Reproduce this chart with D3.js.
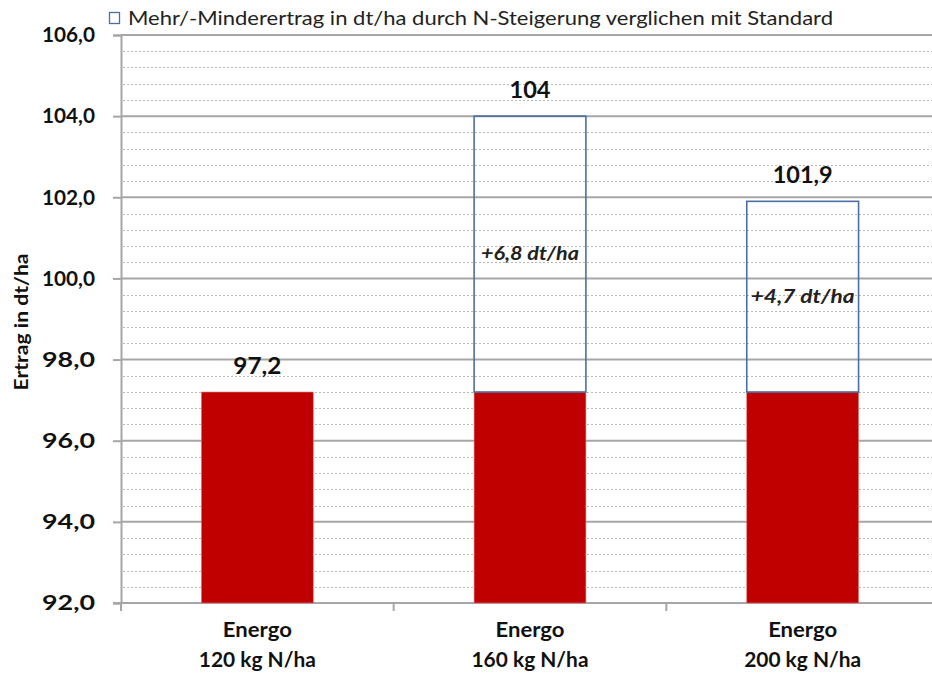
<!DOCTYPE html>
<html><head><meta charset="utf-8">
<script src="https://cdn.jsdelivr.net/npm/d3@7"></script>
<style>body{margin:0;background:#fff;} svg{display:block;font-family:Lato,"Open Sans",sans-serif;}</style>
</head><body>
<script>
const categories = [["Energo","120 kg N/ha"],["Energo","160 kg N/ha"],["Energo","200 kg N/ha"]];
const standardValues = [97.2, 97.2, 97.2];
const totalValues = [97.2, 104.0, 101.9];
const totalLabels = ["97,2", "104", "101,9"];
const diffLabels = ["", "+6,8 dt/ha", "+4,7  dt/ha"];
const yTicks = [92, 94, 96, 98, 100, 102, 104, 106];
const legendText = "Mehr/-Minderertrag in dt/ha durch  N-Steigerung verglichen mit Standard";
const yTitle = "Ertrag in dt/ha";

(function() {
const W = 932, H = 674;
const svg = d3.select("body").append("svg").attr("width", W).attr("height", H);
const pLeft = 121, pRight = 939, pTop = 35, pBottom = 603;

const x = d3.scaleBand().domain(d3.range(categories.length)).range([pLeft, pRight]).padding(0);
const y = d3.scaleLinear().domain([92, 106]).range([pBottom, pTop]);
const barW = x.bandwidth() * 0.41;

// minor gridlines
const minor = d3.range(92.4, 106, 0.4).filter(v => Math.abs(v/2 - Math.round(v/2)) > 0.01);
svg.append("g").selectAll("line").data(minor).join("line")
  .attr("x1", pLeft + 2).attr("x2", W).attr("y1", d => Math.round(y(d)) + 0.5).attr("y2", d => Math.round(y(d)) + 0.5)
  .attr("stroke", "#b8b8b8").attr("stroke-width", 1).attr("stroke-dasharray", "2,2");

// major gridlines
svg.append("g").selectAll("line").data(yTicks.slice(1)).join("line")
  .attr("x1", pLeft).attr("x2", W).attr("y1", d => y(d)).attr("y2", d => y(d))
  .attr("stroke", "#a6a6a6").attr("stroke-width", 2);

// y axis
const yAxis = d3.axisLeft(y).tickValues(yTicks).tickSize(8).tickFormat(d => d.toFixed(1).replace(".", ","));
const ga = svg.append("g").attr("transform", `translate(${pLeft},0)`).call(yAxis);
ga.select(".domain").attr("stroke", "#a6a6a6").attr("stroke-width", 2);
ga.selectAll(".tick line").attr("stroke", "#a6a6a6").attr("stroke-width", 2);
ga.selectAll(".tick text").attr("x", -26).attr("font-size", 21).attr("font-weight", "bold").attr("fill", "#111")
  .attr("font-family", "Lato, sans-serif").attr("textLength", 53).attr("lengthAdjust", "spacingAndGlyphs");

// x axis
const xAxisG = svg.append("g").attr("transform", `translate(0,${pBottom})`);
xAxisG.append("line").attr("x1", pLeft - 8).attr("x2", W).attr("y1", 0).attr("y2", 0)
  .attr("stroke", "#a6a6a6").attr("stroke-width", 2);
xAxisG.selectAll("line.tk").data(d3.range(categories.length + 1)).join("line").attr("class", "tk")
  .attr("x1", d => pLeft + d * x.step()).attr("x2", d => pLeft + d * x.step()).attr("y1", 0).attr("y2", 8)
  .attr("stroke", "#a6a6a6").attr("stroke-width", 2);
categories.forEach((d, i) => {
  const cx = x(i) + x.bandwidth()/2;
  xAxisG.append("text").attr("x", cx).attr("y", 34).attr("text-anchor", "middle")
    .attr("font-size", 20).attr("font-weight", "bold").attr("fill", "#111")
    .attr("textLength", 69).attr("lengthAdjust", "spacingAndGlyphs").text(d[0]);
  xAxisG.append("text").attr("x", cx).attr("y", 64).attr("text-anchor", "middle")
    .attr("font-size", 20).attr("font-weight", "bold").attr("fill", "#111")
    .attr("textLength", 117).attr("lengthAdjust", "spacingAndGlyphs").text(d[1]);
});

// red standard bars
svg.append("g").selectAll("rect").data(standardValues).join("rect")
  .attr("x", (d, i) => x(i) + (x.bandwidth() - barW)/2).attr("width", barW)
  .attr("y", d => y(d)).attr("height", d => pBottom - y(d))
  .attr("fill", "#c00000").attr("stroke", "#e07070").attr("stroke-width", 0.6);

// difference boxes
svg.append("g").selectAll("rect").data(totalValues.map((t, i) => ({t, s: standardValues[i], i})).filter(d => d.t > d.s)).join("rect")
  .attr("x", d => x(d.i) + (x.bandwidth() - barW)/2).attr("width", barW)
  .attr("y", d => y(d.t)).attr("height", d => y(d.s) - y(d.t))
  .attr("fill", "none").attr("stroke", "#4a6fa5").attr("stroke-width", 1.6);

// total labels
const totalW = [48, 41, 60];
svg.append("g").selectAll("text").data(totalValues).join("text")
  .attr("x", (d, i) => x(i) + x.bandwidth()/2).attr("y", d => y(d) - 18)
  .attr("text-anchor", "middle").attr("font-size", 22).attr("font-weight", "bold").attr("fill", "#111")
  .attr("textLength", (d, i) => totalW[i]).attr("lengthAdjust", "spacingAndGlyphs")
  .text((d, i) => totalLabels[i]);

// diff labels
const diffW = [0, 98, 104];
svg.append("g").selectAll("text").data(totalValues.map((d, i) => i).filter(i => diffLabels[i])).join("text")
  .attr("x", i => x(i) + x.bandwidth()/2).attr("y", i => (y(totalValues[i]) + y(standardValues[i]))/2 + 1)
  .attr("dominant-baseline", "middle")
  .attr("text-anchor", "middle").attr("font-size", 19).attr("font-style", "italic").attr("font-weight", "bold").attr("fill", "#222")
  .attr("textLength", i => diffW[i]).attr("lengthAdjust", "spacingAndGlyphs")
  .text(i => diffLabels[i]);

// legend
svg.append("rect").attr("x", 109.5).attr("y", 12.5).attr("width", 10).attr("height", 11)
  .attr("fill", "none").attr("stroke", "#4a6fa5").attr("stroke-width", 1.3);
svg.append("text").attr("x", 128).attr("y", 25).attr("font-size", 20).attr("fill", "#222")
  .attr("textLength", 705).attr("lengthAdjust", "spacingAndGlyphs").text(legendText);

// y title
svg.append("text").attr("transform", `translate(28,${(pTop+pBottom)/2 + 3}) rotate(-90)`)
  .attr("text-anchor", "middle").attr("font-size", 18).attr("font-weight", "bold").attr("fill", "#111")
  .attr("textLength", 137).attr("lengthAdjust", "spacingAndGlyphs").text(yTitle);
})();
</script>
</body></html>
